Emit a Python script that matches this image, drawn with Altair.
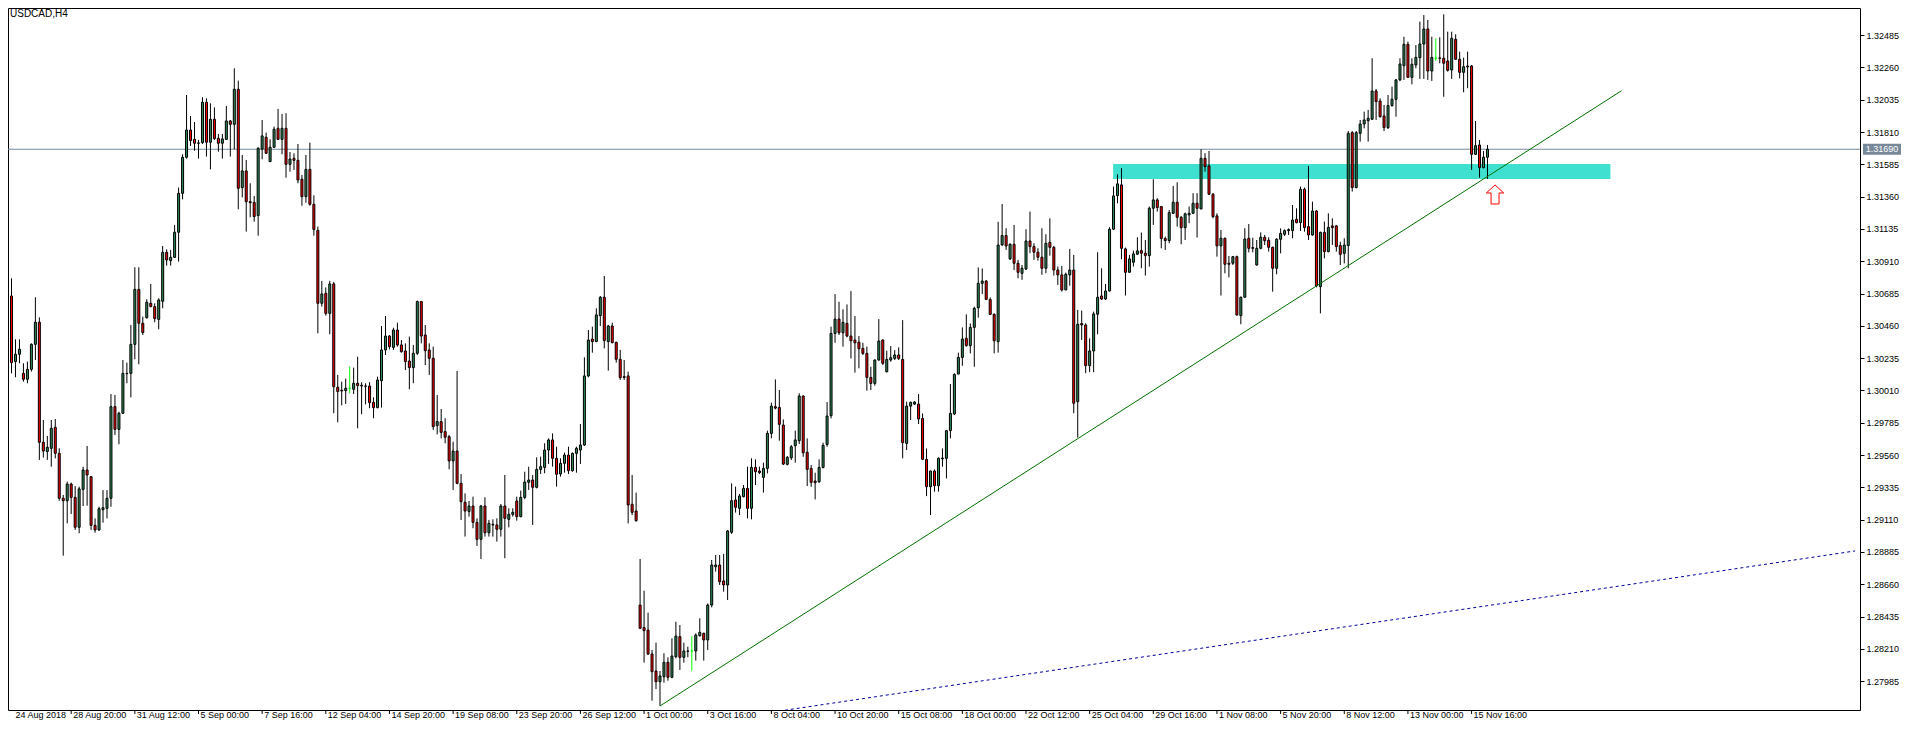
import altair as alt
import pandas as pd

SYMBOL = "USDCAD,H4"

opens = [
    1.30780, 1.30668, 1.30211, 1.30262, 1.30129, 1.30088, 1.30157, 1.30331, 1.30485, 1.29649,
    1.29584, 1.29607, 1.29753, 1.29572, 1.29259, 1.29242, 1.29358, 1.29265, 1.29057, 1.29321,
    1.29456, 1.29409, 1.29070, 1.29038, 1.29179, 1.29189, 1.29259, 1.29897, 1.29739, 1.29851,
    1.30127, 1.30129, 1.30331, 1.30714, 1.30478, 1.30517, 1.30617, 1.30594, 1.30505, 1.30631,
    1.30972, 1.30914, 1.30937, 1.31112, 1.31383, 1.31634, 1.31824, 1.31759, 1.31732, 1.31736,
    1.32017, 1.31739, 1.31899, 1.31766, 1.31732, 1.31759, 1.31887, 1.31864, 1.32108, 1.31423,
    1.31539, 1.31325, 1.31320, 1.31228, 1.31692, 1.31773, 1.31604, 1.31704, 1.31836, 1.31759,
    1.31836, 1.31585, 1.31627, 1.31613, 1.31481, 1.31360, 1.31550, 1.31307, 1.31125, 1.30617,
    1.30687, 1.30547, 1.30752, 1.30032, 1.30011, 1.30009, 1.30025, 1.30018, 1.30060, 1.30046,
    1.30041, 1.30041, 1.29927, 1.29890, 1.30078, 1.30292, 1.30389, 1.30310, 1.30431, 1.30327,
    1.30285, 1.30215, 1.30169, 1.30269, 1.30629, 1.30396, 1.30292, 1.30234, 1.29765, 1.29793,
    1.29723, 1.29688, 1.29519, 1.29588, 1.29363, 1.29231, 1.29166, 1.29205, 1.29091, 1.28973,
    1.29205, 1.29019, 1.29077, 1.29073, 1.29043, 1.29205, 1.29112, 1.29147, 1.29240, 1.29131,
    1.29265, 1.29370, 1.29386, 1.29335, 1.29460, 1.29474, 1.29595, 1.29665, 1.29537, 1.29428,
    1.29502, 1.29560, 1.29451, 1.29572, 1.29595, 1.29630, 1.30111, 1.30368, 1.30350, 1.30531,
    1.30659, 1.30350, 1.30459, 1.30345, 1.30227, 1.30106, 1.30111, 1.29217, 1.29170, 1.28515,
    1.28358, 1.28341, 1.28174, 1.28056, 1.27981, 1.28016, 1.28116, 1.28012, 1.28156, 1.28295,
    1.28151, 1.28195, 1.28195, 1.28195, 1.28302, 1.28318, 1.28272, 1.28515, 1.28782, 1.28794,
    1.28683, 1.28655, 1.29022, 1.29247, 1.29189, 1.29270, 1.29328, 1.29189, 1.29474, 1.29449,
    1.29404, 1.29467, 1.29711, 1.29897, 1.29892, 1.29769, 1.29495, 1.29541, 1.29625, 1.29660,
    1.29971, 1.29579, 1.29467, 1.29379, 1.29374, 1.29474, 1.29634, 1.29834, 1.30407, 1.30507,
    1.30412, 1.30477, 1.30389, 1.30361, 1.30347, 1.30303, 1.30268, 1.30101, 1.30059, 1.30222,
    1.30361, 1.30140, 1.30222, 1.30233, 1.30257, 1.30226, 1.29641, 1.29901, 1.29915, 1.29915,
    1.29815, 1.29530, 1.29339, 1.29449, 1.29346, 1.29534, 1.29537, 1.29730, 1.29846, 1.30124,
    1.30240, 1.30373, 1.30322, 1.30449, 1.30586, 1.30756, 1.30772, 1.30644, 1.30540, 1.30350,
    1.31024, 1.31089, 1.30926, 1.31028, 1.30896, 1.30826, 1.30856, 1.31051, 1.31012, 1.30973,
    1.30938, 1.30861, 1.31042, 1.31007, 1.30849, 1.30815, 1.30710, 1.30815, 1.30849, 1.29932,
    1.30476, 1.30466, 1.30183, 1.30285, 1.30541, 1.30668, 1.30647, 1.30703, 1.31133, 1.31367,
    1.31442, 1.30996, 1.30833, 1.30903, 1.30959, 1.30984, 1.30966, 1.30949, 1.31279, 1.31337,
    1.31291, 1.31068, 1.31054, 1.31244, 1.31321, 1.31216, 1.31144, 1.31233, 1.31244, 1.31314,
    1.31274, 1.31627, 1.31574, 1.31377, 1.31226, 1.31017, 1.31070, 1.30896, 1.30896, 1.30942,
    1.30531, 1.30659, 1.31070, 1.31005, 1.30884, 1.31000, 1.31077, 1.31056, 1.31007, 1.30861,
    1.31063, 1.31098, 1.31123, 1.31123, 1.31202, 1.31179, 1.31411, 1.31151, 1.31093, 1.31260,
    1.30733, 1.31111, 1.30977, 1.31156, 1.31156, 1.31019, 1.30965, 1.31019, 1.31806, 1.31423,
    1.31801, 1.31866, 1.31889, 1.31899, 1.32096, 1.32026, 1.31922, 1.31841, 1.31994, 1.32038,
    1.32173, 1.32272, 1.32421, 1.32191, 1.32277, 1.32328, 1.32423, 1.32528, 1.32235, 1.32324,
    1.32326, 1.32324, 1.32305, 1.32242, 1.32456, 1.32317, 1.32226, 1.32270, 1.32270, 1.31655,
    1.31720, 1.31562, 1.31634,
]

highs = [
    1.30845, 1.30791, 1.30366, 1.30366, 1.30199, 1.30211, 1.30338, 1.30659, 1.30519, 1.29804,
    1.29693, 1.29804, 1.29811, 1.29607, 1.29282, 1.29375, 1.29368, 1.29344, 1.29340, 1.29479,
    1.29623, 1.29414, 1.29119, 1.29200, 1.29316, 1.29316, 1.29985, 1.29978, 1.29862, 1.30222,
    1.30204, 1.30466, 1.30868, 1.30868, 1.30524, 1.30645, 1.30752, 1.30617, 1.30652, 1.31016,
    1.30993, 1.30989, 1.31163, 1.31423, 1.31655, 1.32068, 1.31922, 1.31880, 1.31755, 1.32052,
    1.32045, 1.32010, 1.31982, 1.31797, 1.31797, 1.31992, 1.31894, 1.32254, 1.32168, 1.31650,
    1.31615, 1.31453, 1.31365, 1.31704, 1.31894, 1.31806, 1.31759, 1.31848, 1.31971, 1.31936,
    1.31941, 1.31671, 1.31662, 1.31727, 1.31511, 1.31650, 1.31736, 1.31369, 1.31151, 1.30773,
    1.30728, 1.30773, 1.30766, 1.30118, 1.30071, 1.30092, 1.30176, 1.30169, 1.30245, 1.30067,
    1.30060, 1.30067, 1.29962, 1.30106, 1.30459, 1.30529, 1.30396, 1.30447, 1.30482, 1.30361,
    1.30338, 1.30385, 1.30327, 1.30636, 1.30633, 1.30466, 1.30338, 1.30315, 1.29978, 1.29881,
    1.29816, 1.29700, 1.29653, 1.30146, 1.29428, 1.29293, 1.29240, 1.29270, 1.29119, 1.29212,
    1.29266, 1.29108, 1.29112, 1.29119, 1.29219, 1.29421, 1.29189, 1.29189, 1.29270, 1.29312,
    1.29444, 1.29479, 1.29421, 1.29544, 1.29549, 1.29642, 1.29676, 1.29711, 1.29618, 1.29537,
    1.29577, 1.29618, 1.29577, 1.29618, 1.29776, 1.30241, 1.30431, 1.30454, 1.30582, 1.30668,
    1.30807, 1.30466, 1.30482, 1.30350, 1.30292, 1.30222, 1.30141, 1.29421, 1.29298, 1.28836,
    1.28615, 1.28462, 1.28202, 1.28253, 1.28056, 1.28179, 1.28151, 1.28283, 1.28399, 1.28376,
    1.28253, 1.28225, 1.28299, 1.28318, 1.28423, 1.28323, 1.28527, 1.28829, 1.28864, 1.28864,
    1.28871, 1.29038, 1.29363, 1.29340, 1.29289, 1.29351, 1.29479, 1.29537, 1.29530, 1.29479,
    1.29507, 1.29730, 1.29925, 1.30087, 1.30013, 1.29808, 1.29553, 1.29630, 1.29730, 1.29990,
    1.29976, 1.29676, 1.29490, 1.29437, 1.29530, 1.29646, 1.29929, 1.30454, 1.30681, 1.30628,
    1.30575, 1.30609, 1.30702, 1.30528, 1.30389, 1.30342, 1.30315, 1.30175, 1.30226, 1.30507,
    1.30366, 1.30287, 1.30319, 1.30291, 1.30310, 1.30500, 1.29932, 1.29932, 1.29936, 1.29985,
    1.29850, 1.29606, 1.29451, 1.29460, 1.29544, 1.29606, 1.29734, 1.30055, 1.30129, 1.30273,
    1.30449, 1.30540, 1.30477, 1.30593, 1.30867, 1.30860, 1.30779, 1.30658, 1.30547, 1.31185,
    1.31309, 1.31140, 1.31035, 1.31163, 1.30919, 1.30884, 1.31133, 1.31256, 1.31035, 1.31000,
    1.31140, 1.31098, 1.31209, 1.31017, 1.30873, 1.30877, 1.30831, 1.30996, 1.30954, 1.30571,
    1.30566, 1.30478, 1.30373, 1.30559, 1.30973, 1.30861, 1.30752, 1.31147, 1.31430, 1.31516,
    1.31558, 1.31005, 1.30954, 1.30984, 1.31077, 1.31110, 1.31058, 1.31291, 1.31481, 1.31349,
    1.31291, 1.31082, 1.31267, 1.31435, 1.31460, 1.31226, 1.31249, 1.31291, 1.31384, 1.31384,
    1.31690, 1.31662, 1.31678, 1.31384, 1.31244, 1.31128, 1.31075, 1.30947, 1.30947, 1.30949,
    1.30664, 1.31140, 1.31169, 1.31074, 1.31058, 1.31111, 1.31093, 1.31077, 1.31012, 1.31070,
    1.31139, 1.31132, 1.31139, 1.31302, 1.31279, 1.31430, 1.31423, 1.31574, 1.31325, 1.31267,
    1.31116, 1.31186, 1.31244, 1.31209, 1.31163, 1.31046, 1.31070, 1.31817, 1.31817, 1.31817,
    1.31894, 1.31952, 1.31964, 1.32324, 1.32110, 1.32045, 1.31998, 1.32068, 1.32126, 1.32180,
    1.32324, 1.32474, 1.32440, 1.32324, 1.32416, 1.32579, 1.32625, 1.32591, 1.32474, 1.32463,
    1.32470, 1.32630, 1.32509, 1.32509, 1.32491, 1.32370, 1.32328, 1.32370, 1.32277, 1.31887,
    1.31755, 1.31678, 1.31720,
]

lows = [
    1.30663, 1.30129, 1.30102, 1.30199, 1.30071, 1.30060, 1.30141, 1.30222, 1.29526, 1.29542,
    1.29526, 1.29479, 1.29537, 1.29242, 1.28859, 1.29084, 1.29149, 1.29038, 1.29015, 1.29205,
    1.29207, 1.29038, 1.29019, 1.29033, 1.29089, 1.29119, 1.29200, 1.29700, 1.29635, 1.29846,
    1.30060, 1.29962, 1.30227, 1.30192, 1.30396, 1.30510, 1.30589, 1.30485, 1.30436, 1.30582,
    1.30879, 1.30879, 1.30933, 1.30907, 1.31341, 1.31625, 1.31713, 1.31680, 1.31625, 1.31727,
    1.31639, 1.31550, 1.31755, 1.31673, 1.31625, 1.31755, 1.31639, 1.31690, 1.31272, 1.31355,
    1.31116, 1.31216, 1.31186, 1.31088, 1.31620, 1.31657, 1.31601, 1.31699, 1.31755, 1.31655,
    1.31492, 1.31534, 1.31546, 1.31453, 1.31297, 1.31318, 1.31297, 1.31088, 1.30408, 1.30594,
    1.30531, 1.30401, 1.29851, 1.29788, 1.29906, 1.29916, 1.29990, 1.29985, 1.29746, 1.29844,
    1.29913, 1.29886, 1.29816, 1.29886, 1.29890, 1.30257, 1.30296, 1.30292, 1.30315, 1.30273,
    1.30152, 1.30018, 1.30060, 1.30257, 1.30338, 1.30187, 1.30118, 1.29735, 1.29704, 1.29676,
    1.29642, 1.29461, 1.29317, 1.29356, 1.29108, 1.28992, 1.29131, 1.29050, 1.28927, 1.28836,
    1.28992, 1.28992, 1.28992, 1.28957, 1.28992, 1.28841, 1.29056, 1.29131, 1.29103, 1.29126,
    1.29252, 1.29317, 1.29073, 1.29328, 1.29428, 1.29433, 1.29498, 1.29479, 1.29340, 1.29409,
    1.29437, 1.29428, 1.29444, 1.29437, 1.29498, 1.29623, 1.30101, 1.30273, 1.30347, 1.30459,
    1.30303, 1.30148, 1.30338, 1.30204, 1.30083, 1.30083, 1.29084, 1.29142, 1.29096, 1.28348,
    1.28114, 1.28167, 1.27849, 1.27930, 1.27812, 1.27974, 1.27988, 1.28005, 1.28144, 1.28063,
    1.28114, 1.28151, 1.28056, 1.28128, 1.28295, 1.28128, 1.28202, 1.28499, 1.28748, 1.28655,
    1.28608, 1.28550, 1.29010, 1.29159, 1.29142, 1.29265, 1.29119, 1.29112, 1.29351, 1.29428,
    1.29298, 1.29432, 1.29676, 1.29878, 1.29660, 1.29490, 1.29488, 1.29525, 1.29507, 1.29637,
    1.29548, 1.29344, 1.29339, 1.29251, 1.29365, 1.29467, 1.29618, 1.29815, 1.30342, 1.30396,
    1.30315, 1.30380, 1.30233, 1.30134, 1.30164, 1.30257, 1.30008, 1.30013, 1.30043, 1.30217,
    1.30187, 1.30136, 1.30210, 1.30222, 1.30222, 1.29537, 1.29595, 1.29804, 1.29908, 1.29776,
    1.29525, 1.29274, 1.29142, 1.29305, 1.29305, 1.29479, 1.29397, 1.29676, 1.29839, 1.30124,
    1.30182, 1.30315, 1.30268, 1.30175, 1.30517, 1.30682, 1.30640, 1.30535, 1.30268, 1.30273,
    1.31017, 1.30989, 1.30919, 1.30849, 1.30791, 1.30780, 1.30849, 1.30966, 1.30919, 1.30914,
    1.30815, 1.30826, 1.30949, 1.30810, 1.30745, 1.30699, 1.30710, 1.30740, 1.29851, 1.29682,
    1.30362, 1.30130, 1.30137, 1.30137, 1.30401, 1.30640, 1.30640, 1.30699, 1.31128, 1.31314,
    1.30924, 1.30671, 1.30831, 1.30873, 1.30954, 1.30861, 1.30810, 1.30873, 1.31163, 1.31256,
    1.31000, 1.30989, 1.31035, 1.31240, 1.31151, 1.31028, 1.31058, 1.31175, 1.31240, 1.31075,
    1.31274, 1.31534, 1.31372, 1.31209, 1.30942, 1.30671, 1.30826, 1.30798, 1.30884, 1.30531,
    1.30471, 1.30659, 1.30972, 1.30972, 1.30879, 1.30993, 1.31023, 1.30977, 1.30698, 1.30819,
    1.30965, 1.31086, 1.31093, 1.31070, 1.31174, 1.31121, 1.31116, 1.31058, 1.31088, 1.30728,
    1.30547, 1.30930, 1.30972, 1.31023, 1.30977, 1.30884, 1.30895, 1.30861, 1.31395, 1.31418,
    1.31743, 1.31836, 1.31743, 1.31894, 1.31894, 1.31910, 1.31817, 1.31831, 1.31987, 1.31917,
    1.32166, 1.32173, 1.32189, 1.32142, 1.32254, 1.32180, 1.32180, 1.32173, 1.32166, 1.32305,
    1.32289, 1.32056, 1.32231, 1.32180, 1.32312, 1.32184, 1.32087, 1.32115, 1.31546, 1.31650,
    1.31492, 1.31557, 1.31483,
]

closes = [
    1.30668, 1.30204, 1.30262, 1.30297, 1.30088, 1.30157, 1.30331, 1.30485, 1.29649, 1.29588,
    1.29614, 1.29746, 1.29572, 1.29259, 1.29242, 1.29358, 1.29265, 1.29057, 1.29324, 1.29456,
    1.29421, 1.29070, 1.29038, 1.29186, 1.29193, 1.29259, 1.29897, 1.29739, 1.29851, 1.30129,
    1.30129, 1.30331, 1.30714, 1.30478, 1.30413, 1.30624, 1.30594, 1.30510, 1.30640, 1.30972,
    1.30919, 1.30937, 1.31112, 1.31383, 1.31634, 1.31824, 1.31750, 1.31732, 1.31734, 1.32017,
    1.31739, 1.31899, 1.31764, 1.31732, 1.31762, 1.31887, 1.31864, 1.32108, 1.31418, 1.31539,
    1.31325, 1.31318, 1.31221, 1.31697, 1.31783, 1.31662, 1.31704, 1.31829, 1.31759, 1.31836,
    1.31585, 1.31622, 1.31613, 1.31476, 1.31360, 1.31550, 1.31307, 1.31132, 1.30617, 1.30682,
    1.30547, 1.30752, 1.30036, 1.30002, 1.30006, 1.30025, 1.30025, 1.30060, 1.30043, 1.30041,
    1.30039, 1.29925, 1.29890, 1.30083, 1.30292, 1.30389, 1.30315, 1.30431, 1.30327, 1.30280,
    1.30211, 1.30169, 1.30269, 1.30629, 1.30389, 1.30287, 1.30234, 1.29758, 1.29793, 1.29718,
    1.29684, 1.29519, 1.29588, 1.29363, 1.29235, 1.29170, 1.29205, 1.29091, 1.28973, 1.29205,
    1.29019, 1.29084, 1.29073, 1.29043, 1.29205, 1.29119, 1.29147, 1.29161, 1.29131, 1.29265,
    1.29372, 1.29386, 1.29335, 1.29460, 1.29479, 1.29595, 1.29665, 1.29537, 1.29426, 1.29502,
    1.29560, 1.29451, 1.29572, 1.29607, 1.29630, 1.30111, 1.30361, 1.30350, 1.30536, 1.30659,
    1.30357, 1.30459, 1.30343, 1.30227, 1.30099, 1.30101, 1.29212, 1.29161, 1.29103, 1.28353,
    1.28337, 1.28174, 1.28051, 1.27981, 1.28021, 1.28116, 1.28012, 1.28160, 1.28299, 1.28151,
    1.28195, 1.28193, 1.28195, 1.28306, 1.28325, 1.28272, 1.28515, 1.28794, 1.28794, 1.28678,
    1.28655, 1.29031, 1.29242, 1.29196, 1.29275, 1.29328, 1.29189, 1.29474, 1.29444, 1.29437,
    1.29467, 1.29711, 1.29901, 1.29887, 1.29774, 1.29497, 1.29544, 1.29618, 1.29665, 1.29971,
    1.29576, 1.29460, 1.29370, 1.29367, 1.29474, 1.29627, 1.29832, 1.30407, 1.30507, 1.30412,
    1.30484, 1.30389, 1.30356, 1.30342, 1.30301, 1.30268, 1.30101, 1.30059, 1.30222, 1.30354,
    1.30199, 1.30226, 1.30238, 1.30257, 1.30233, 1.29646, 1.29901, 1.29927, 1.29929, 1.29811,
    1.29530, 1.29339, 1.29449, 1.29346, 1.29537, 1.29539, 1.29730, 1.29850, 1.30122, 1.30240,
    1.30368, 1.30322, 1.30449, 1.30582, 1.30756, 1.30772, 1.30644, 1.30540, 1.30356, 1.31023,
    1.31089, 1.31017, 1.31028, 1.30896, 1.30833, 1.30861, 1.31051, 1.31012, 1.30973, 1.30938,
    1.30861, 1.31035, 1.31007, 1.30849, 1.30815, 1.30710, 1.30819, 1.30849, 1.29921, 1.30471,
    1.30466, 1.30183, 1.30285, 1.30543, 1.30659, 1.30647, 1.30703, 1.31133, 1.31365, 1.31449,
    1.31000, 1.30833, 1.30926, 1.30961, 1.30982, 1.30966, 1.30949, 1.31279, 1.31337, 1.31284,
    1.31068, 1.31054, 1.31249, 1.31321, 1.31216, 1.31144, 1.31240, 1.31244, 1.31314, 1.31279,
    1.31627, 1.31569, 1.31377, 1.31221, 1.31017, 1.31070, 1.30889, 1.30889, 1.30942, 1.30536,
    1.30659, 1.31065, 1.31000, 1.31000, 1.31000, 1.31077, 1.31053, 1.31007, 1.30861, 1.31063,
    1.31104, 1.31123, 1.31130, 1.31197, 1.31179, 1.31411, 1.31144, 1.31093, 1.31260, 1.30738,
    1.31111, 1.30977, 1.31146, 1.31144, 1.31012, 1.30958, 1.31023, 1.31801, 1.31423, 1.31806,
    1.31866, 1.31894, 1.31906, 1.32096, 1.32022, 1.31917, 1.31841, 1.31994, 1.32038, 1.32173,
    1.32284, 1.32421, 1.32191, 1.32282, 1.32330, 1.32423, 1.32528, 1.32235, 1.32330, 1.32324,
    1.32324, 1.32289, 1.32240, 1.32463, 1.32317, 1.32226, 1.32265, 1.32263, 1.31655, 1.31715,
    1.31562, 1.31634, 1.31690,
]

time_tick_bars = [0, 16, 32, 48, 64, 80, 96, 112, 128, 144, 160, 176, 192, 208, 224, 240,
                  256, 272, 288, 304, 320, 336, 352, 368]
time_tick_labels = ["24 Aug 2018", "28 Aug 20:00", "31 Aug 12:00", "5 Sep 00:00", "7 Sep 16:00",
                    "12 Sep 04:00", "14 Sep 20:00", "19 Sep 08:00", "23 Sep 20:00", "26 Sep 12:00",
                    "1 Oct 00:00", "3 Oct 16:00", "8 Oct 04:00", "10 Oct 20:00", "15 Oct 08:00",
                    "18 Oct 00:00", "22 Oct 12:00", "25 Oct 04:00", "29 Oct 16:00", "1 Nov 08:00",
                    "5 Nov 20:00", "8 Nov 12:00", "13 Nov 00:00", "15 Nov 16:00"]
price_ticks = [1.27985, 1.28210, 1.28435, 1.28660, 1.28885, 1.29110, 1.29335, 1.29560,
               1.29785, 1.30010, 1.30235, 1.30460, 1.30685, 1.30910, 1.31135, 1.31360,
               1.31585, 1.31810, 1.32035, 1.32260, 1.32485]
bid_price = 1.31690

zone_bars = [277.9, 402.9]
zone_prices = [1.31483, 1.31588]
support_bars = [164, 405.7]
support_prices = [1.27812, 1.32098]
channel_bars = [192.4, 464.4]
channel_prices = [1.27770, 1.28892]
arrow_bar = [373.9]
arrow_price = [1.31375]

# ---------------------------------------------------------------------------
BULL = "#2E8B57"
BEAR = "#FF0000"
DOJI = "#00FF00"
FONT = "Liberation Sans"

W, H = 1852, 702
xs = alt.Scale(domain=[1.375, 464.375], nice=False, zero=False)
ys = alt.Scale(domain=[1.27784, 1.32674], nice=False, zero=False)
YAX = alt.Axis(orient="right", values=price_ticks, format=".5f", title=None, grid=False,
               domain=False, ticks=True, tickSize=4, tickColor="black", tickWidth=1,
               labelColor="black", labelFont=FONT, labelFontSize=9, labelPadding=2,
               labelOverlap=False)


def Y(field):
    return alt.Y(field, scale=ys, axis=YAX)


candles = pd.DataFrame({
    "bar": list(range(len(opens))),
    "open": opens, "high": highs, "low": lows, "close": closes,
})

X = alt.X("bar:Q", scale=xs, axis=None)

zone = alt.Chart(pd.DataFrame({"x0": [zone_bars[0]], "x1": [zone_bars[1]],
                               "p0": [zone_prices[0]], "p1": [zone_prices[1]]})).mark_rect(
    color="#40E0D0").encode(
    x=alt.X("x0:Q", scale=xs, axis=None), x2="x1:Q", y=Y("p0:Q"), y2="p1:Q")

bid_df = pd.DataFrame({"price": [bid_price], "label": [f"{bid_price:.5f}"]})
bid_line = alt.Chart(bid_df).mark_rule(color="#778899", strokeWidth=1).encode(y=Y("price:Q"))

wicks = alt.Chart(candles).transform_calculate(
    edge=f"datum.open == datum.close ? '{DOJI}' : 'black'"
).mark_rule(strokeWidth=1, clip=True).encode(
    x=X, y=Y("low:Q"), y2="high:Q", stroke=alt.Stroke("edge:N", scale=None))

bodies = alt.Chart(candles).transform_calculate(
    body=f"datum.close > datum.open ? '{BULL}' : (datum.close < datum.open ? '{BEAR}' : '{DOJI}')",
    edge=f"datum.open == datum.close ? '{DOJI}' : 'black'",
).mark_bar(width=2, strokeWidth=1, clip=True).encode(
    x=X, y=Y("open:Q"), y2="close:Q",
    fill=alt.Fill("body:N", scale=None),
    stroke=alt.Stroke("edge:N", scale=None),
)

support = alt.Chart(pd.DataFrame({"bar": support_bars, "price": support_prices})).mark_line(
    color="#007000", strokeWidth=1, clip=True).encode(x=X, y=Y("price:Q"))

channel = alt.Chart(pd.DataFrame({"bar": channel_bars, "price": channel_prices})).mark_line(
    color="#0000A0", strokeWidth=1, strokeDash=[3, 3], clip=True).encode(x=X, y=Y("price:Q"))

ARROW = "M0,-1 L0.916,-0.158 L0.42,-0.158 L0.42,1 L-0.42,1 L-0.42,-0.158 L-0.916,-0.158 Z"
arrow = alt.Chart(pd.DataFrame({"bar": arrow_bar, "price": arrow_price})).mark_point(
    shape=ARROW, size=361, filled=True, fill="white", stroke="#FF0000", strokeWidth=1,
    opacity=1).encode(x=X, y=Y("price:Q"))

title = alt.Chart(pd.DataFrame({"t": [SYMBOL]})).mark_text(
    align="left", baseline="alphabetic", font=FONT, fontSize=10, color="black").encode(
    x=alt.value(2), y=alt.value(9), text="t:N")

ticks_df = pd.DataFrame({"bar": time_tick_bars, "label": time_tick_labels})
time_ticks = alt.Chart(ticks_df).transform_filter("datum.bar > 1.5").mark_rule(
    color="black", strokeWidth=1).encode(x=X, y=alt.value(H), y2=alt.value(H + 4))
time_labels = alt.Chart(ticks_df).transform_calculate(
    lx="max(datum.bar, 1.5)").mark_text(
    align="left", baseline="top", dx=2, font=FONT, fontSize=9, color="black").encode(
    x=alt.X("lx:Q", scale=xs, axis=None), y=alt.value(H + 1), text="label:N")

BOX = "M-1,-0.29 L1,-0.29 L1,0.29 L-1,0.29 Z"
bid_box = alt.Chart(bid_df).mark_point(
    shape=BOX, size=1444, filled=True, fill="#778899", strokeWidth=0, opacity=1).encode(
    x=alt.value(W + 22), y=Y("price:Q"))
bid_text = alt.Chart(bid_df).mark_text(
    align="center", baseline="middle", font=FONT, fontSize=9, color="white").encode(
    x=alt.value(W + 22), y=Y("price:Q"), text="label:N")

chart = alt.layer(
    zone, bid_line, wicks, bodies, support, channel, arrow, title,
    time_ticks, time_labels, bid_box, bid_text,
).properties(
    width=W, height=H,
    padding={"left": 0, "top": 0, "right": 48, "bottom": 11},
    autosize=alt.AutoSizeParams(type="none"),
    background="white",
).configure_view(stroke="black", strokeWidth=1)

chart.save("out.html", embed_options={"renderer": "svg", "actions": False})
